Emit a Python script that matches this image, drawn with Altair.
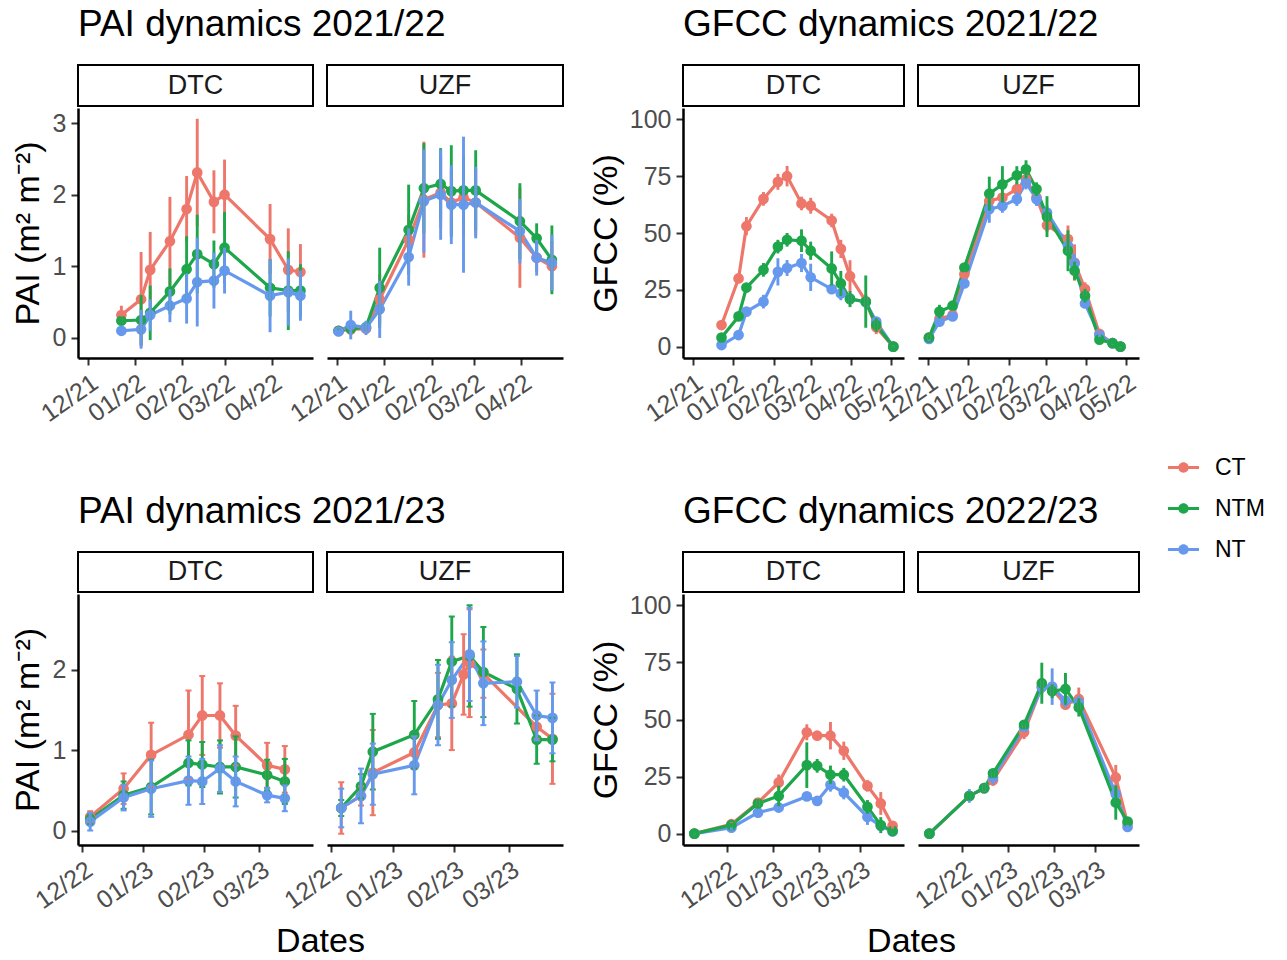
import altair as alt
import pandas as pd

FONT = "Liberation Sans"
TREATMENTS = ["CT", "NTM", "NT"]
# names as printed in the legend (NT carries a leading space)
TREATMENT_NAMES = ["CT", "NTM", "\u00a0NT"]
COLORS = ["#EE776B", "#1DA64A", "#6699EE"]
COLOR_OF = dict(zip(TREATMENTS, COLORS))
NAME_OF = dict(zip(TREATMENTS, TREATMENT_NAMES))

# ---------------- PAI 2021/22 ----------------
PAI22_DTC_DATES = ["2021-12-23", "2022-01-05", "2022-01-11", "2022-01-24", "2022-02-04",
                   "2022-02-11", "2022-02-22", "2022-03-01", "2022-03-31", "2022-04-12",
                   "2022-04-20"]
PAI22_DTC_MEAN = {
    "CT":  [0.32, 0.54, 0.95, 1.35, 1.80, 2.31, 1.90, 2.00, 1.38, 0.95, 0.92],
    "NTM": [0.24, 0.25, 0.35, 0.65, 0.96, 1.17, 1.03, 1.26, 0.70, 0.66, 0.66],
    "NT":  [0.10, 0.12, 0.32, 0.45, 0.55, 0.78, 0.80, 0.94, 0.59, 0.64, 0.59],
}
PAI22_DTC_SD = {
    "CT":  [0.13, 0.66, 0.53, 0.62, 0.46, 0.75, 0.44, 0.49, 0.49, 0.58, 0.39],
    "NTM": [0.06, 0.35, 0.38, 0.32, 0.46, 0.55, 0.33, 0.50, 0.40, 0.55, 0.37],
    "NT":  [0.05, 0.27, 0.22, 0.23, 0.35, 0.62, 0.39, 0.32, 0.51, 0.47, 0.35],
}
PAI22_UZF_DATES = ["2021-12-02", "2021-12-10", "2021-12-20", "2021-12-29", "2022-01-17",
                   "2022-01-27", "2022-02-07", "2022-02-14", "2022-02-22", "2022-03-02",
                   "2022-03-31", "2022-04-11", "2022-04-21"]
PAI22_UZF_MEAN = {
    "CT":  [0.10, 0.12, 0.13, 0.54, 1.37, 1.93, 2.03, 1.89, 1.96, 1.89, 1.40, 1.12, 1.00],
    "NTM": [0.10, 0.13, 0.15, 0.70, 1.51, 2.09, 2.15, 2.05, 2.06, 2.06, 1.63, 1.39, 1.09],
    "NT":  [0.09, 0.18, 0.14, 0.40, 1.13, 1.91, 2.00, 1.86, 1.86, 1.89, 1.49, 1.12, 1.05],
}
PAI22_UZF_SD = {
    "CT":  [0.03, 0.08, 0.06, 0.35, 0.35, 0.81, 0.50, 0.45, 0.55, 0.47, 0.70, 0.20, 0.35],
    "NTM": [0.03, 0.05, 0.05, 0.56, 0.63, 0.63, 0.50, 0.64, 0.50, 0.56, 0.53, 0.21, 0.48],
    "NT":  [0.03, 0.20, 0.10, 0.40, 0.40, 0.72, 0.63, 0.55, 0.95, 0.50, 0.45, 0.25, 0.39],
}

# ---------------- GFCC 2021/22 ----------------
GF22_DTC_DATES = ["2021-12-23", "2022-01-05", "2022-01-11", "2022-01-24", "2022-02-04",
                  "2022-02-11", "2022-02-22", "2022-03-01", "2022-03-17", "2022-03-24",
                  "2022-03-31", "2022-04-12", "2022-04-20", "2022-05-03"]
GF22_DTC_MEAN = {
    "CT":  [9.5, 30.0, 53.0, 65.0, 72.5, 75.0, 63.0, 62.0, 55.5, 43.0, 31.0, 20.0, 8.5, 0.0],
    "NTM": [4.0, 13.3, 26.0, 33.8, 44.0, 47.0, 46.6, 42.2, 34.4, 27.8, 20.9, 19.8, 9.5, 0.0],
    "NT":  [0.7, 5.1, 15.4, 19.8, 32.9, 34.6, 36.8, 30.5, 25.3, 23.4, 21.2, 19.5, 11.0, 0.0],
}
GF22_DTC_SD = {
    "CT":  [1.5, 2.0, 4.0, 3.0, 3.5, 4.5, 3.0, 3.5, 3.0, 4.0, 7.0, 3.0, 3.0, 0.5],
    "NTM": [1.0, 2.0, 2.0, 3.0, 3.0, 3.0, 5.0, 4.0, 7.5, 5.5, 3.5, 11.5, 3.0, 0.5],
    "NT":  [1.0, 2.0, 2.0, 3.0, 6.0, 3.5, 4.0, 6.0, 2.0, 3.0, 2.5, 3.0, 2.0, 0.5],
}
GF22_UZF_DATES = ["2021-12-02", "2021-12-10", "2021-12-20", "2021-12-29", "2022-01-17",
                  "2022-01-27", "2022-02-07", "2022-02-14", "2022-02-22", "2022-03-02",
                  "2022-03-18", "2022-03-23", "2022-03-31", "2022-04-11", "2022-04-21",
                  "2022-04-27"]
GF22_UZF_MEAN = {
    "CT":  [4.0, 12.2, 13.9, 31.9, 64.1, 65.6, 69.3, 73.6, 65.6, 53.4, 47.3, 37.0, 25.3, 5.6, 1.5, 0.0],
    "NTM": [4.0, 15.4, 18.0, 34.8, 67.3, 71.4, 75.4, 78.0, 69.3, 57.2, 42.2, 33.4, 22.4, 3.1, 1.5, 0.0],
    "NT":  [3.4, 11.0, 13.3, 27.8, 60.5, 61.9, 64.9, 72.2, 64.9, 59.0, 44.4, 36.6, 19.0, 5.1, 1.5, 0.0],
}
GF22_UZF_SD = {
    "CT":  [1.0, 2.0, 2.0, 2.0, 3.0, 2.0, 3.0, 3.0, 3.0, 3.0, 6.0, 8.0, 3.0, 1.0, 0.5, 0.3],
    "NTM": [1.0, 3.0, 2.0, 2.0, 7.5, 8.0, 4.0, 4.0, 3.0, 9.0, 9.0, 4.0, 3.0, 1.0, 0.5, 0.3],
    "NT":  [1.0, 2.0, 2.0, 2.0, 6.0, 3.0, 3.0, 3.0, 3.0, 3.0, 3.0, 4.0, 2.0, 1.0, 0.5, 0.3],
}

# ---------------- PAI 2022/23 ----------------
PAI23_DTC_DATES = ["2022-12-05", "2022-12-22", "2023-01-05", "2023-01-24", "2023-01-31",
                   "2023-02-09", "2023-02-17", "2023-03-05", "2023-03-14"]
PAI23_DTC_MEAN = {
    "CT":  [0.17, 0.52, 0.94, 1.19, 1.43, 1.43, 1.18, 0.81, 0.76],
    "NTM": [0.14, 0.44, 0.54, 0.84, 0.82, 0.79, 0.79, 0.69, 0.61],
    "NT":  [0.11, 0.41, 0.52, 0.62, 0.61, 0.77, 0.61, 0.44, 0.40],
}
PAI23_DTC_SD = {
    "CT":  [0.07, 0.19, 0.40, 0.55, 0.49, 0.40, 0.37, 0.28, 0.29],
    "NTM": [0.06, 0.17, 0.34, 0.28, 0.28, 0.33, 0.38, 0.19, 0.28],
    "NT":  [0.11, 0.16, 0.35, 0.30, 0.28, 0.29, 0.31, 0.09, 0.16],
}
PAI23_UZF_DATES = ["2022-12-06", "2022-12-16", "2022-12-22", "2023-01-12", "2023-01-24",
                   "2023-01-31", "2023-02-06", "2023-02-09", "2023-02-16", "2023-03-05",
                   "2023-03-15", "2023-03-23"]
PAI23_UZF_MEAN = {
    "CT":  [0.28, 0.43, 0.72, 0.97, 1.56, 1.58, 1.94, 2.08, 1.95, None, 1.29, 1.14],
    "NTM": [0.28, 0.55, 0.98, 1.19, 1.63, 2.10, None, 2.17, 1.97, 1.76, 1.13, 1.13],
    "NT":  [0.28, 0.43, 0.70, 0.81, 1.56, 1.87, None, 2.19, 1.83, 1.85, 1.43, 1.40],
}
PAI23_UZF_SD = {
    "CT":  [0.32, 0.12, 0.53, 0.20, 0.40, 0.58, 0.50, 0.67, 0.30, None, 0.15, 0.56],
    "NTM": [0.10, 0.15, 0.47, 0.42, 0.49, 0.56, None, 0.63, 0.56, 0.43, 0.30, 0.27],
    "NT":  [0.24, 0.34, 0.38, 0.36, 0.50, 0.47, None, 0.58, 0.52, 0.32, 0.31, 0.44],
}

# ---------------- GFCC 2022/23 ----------------
GF23_DTC_DATES = ["2022-11-09", "2022-12-04", "2022-12-22", "2023-01-05", "2023-01-24",
                  "2023-01-31", "2023-02-09", "2023-02-18", "2023-03-06", "2023-03-15",
                  "2023-03-23"]
GF23_DTC_MEAN = {
    "CT":  [0.0, 4.1, 13.6, 22.4, 44.4, 42.9, 42.9, 36.3, 20.9, 13.2, 3.4],
    "NTM": [0.0, 3.7, 13.2, 16.5, 30.0, 29.7, 25.8, 25.8, 11.7, 3.7, 1.2],
    "NT":  [0.0, 2.6, 9.2, 11.4, 16.3, 14.3, 21.4, 18.0, 7.3, 3.4, 0.9],
}
GF23_DTC_SD = {
    "CT":  [0.3, 1.0, 2.0, 3.5, 3.5, 2.0, 6.0, 4.0, 2.5, 5.0, 1.5],
    "NTM": [0.3, 1.0, 2.0, 4.5, 10.0, 3.0, 4.0, 3.0, 3.0, 3.5, 1.0],
    "NT":  [0.3, 1.0, 1.5, 2.0, 2.0, 1.5, 3.0, 3.0, 3.5, 1.0, 0.8],
}
GF23_UZF_DATES = ["2022-11-09", "2022-12-06", "2022-12-16", "2022-12-22", "2023-01-12",
                  "2023-01-24", "2023-01-31", "2023-02-09", "2023-02-18", "2023-03-15",
                  "2023-03-23"]
GF23_UZF_MEAN = {
    "CT":  [0.0, 16.5, 19.9, 23.4, 44.4, 64.4, 63.4, 56.5, 59.0, 24.6, 4.4],
    "NTM": [0.0, 16.5, 19.9, 26.4, 47.7, 65.9, 62.4, 63.4, 55.3, 13.6, 5.3],
    "NT":  [0.0, 16.5, 19.9, 24.6, 46.6, 64.1, 64.4, 58.3, 57.5, 17.3, 2.9],
}
GF23_UZF_SD = {
    "CT":  [0.3, 2.0, 1.5, 2.5, 3.0, 3.0, 3.0, 2.0, 5.0, 5.5, 1.5],
    "NTM": [0.3, 2.0, 1.5, 2.0, 2.0, 9.0, 3.0, 7.0, 4.0, 7.5, 1.5],
    "NT":  [0.3, 3.0, 1.5, 3.0, 2.0, 3.0, 8.0, 3.0, 3.0, 4.0, 1.0],
}

# ---------------- axes ----------------
TICKS_2122 = ["2021-12-01", "2022-01-01", "2022-02-01", "2022-03-01", "2022-04-01"]
TICKS_GF2122 = TICKS_2122 + ["2022-05-01"]
TICKS_2223 = ["2022-12-01", "2023-01-01", "2023-02-01", "2023-03-01"]
XDOM_PAI22 = ["2021-11-24T10", "2022-04-28T07"]
XDOM_GF22 = ["2021-11-23T15", "2022-05-11T04"]
XDOM_PAI23 = ["2022-11-28T19", "2023-03-28T08"]
XDOM_GF23 = ["2022-11-01T07", "2023-03-30T17"]
YDOM_PAI22 = [-0.28, 3.21]
YDOM_PAI23 = [-0.18, 2.94]
YDOM_GF = [-5, 105]
YTICKS_PAI22 = [0, 1, 2, 3]
YTICKS_PAI23 = [0, 1, 2]
YTICKS_GF = [0, 25, 50, 75, 100]

PAI_TITLE = "PAI (m\u00b2 m\u207b\u00b2)"
GF_TITLE = "GFCC (%)"

W_PAI, W_GF = 235, 221
H_TOP, H_BOT = 250, 251
STRIP_TOP, STRIP_BOT = 41, 40
GAP_COL, GAP_MID, GAP_ROW, GAP_MIDROW = 14, 92, 2, 190

TICK_FS = 25
AXIS_TITLE_FS = 34
TITLE_FS = 37
STRIP_FS = 27

# legend key: a short line with a dot on it
LEGEND = alt.Legend(
    title=None, orient="none", legendX=1094, legendY=391, padding=0,
    symbolType="M-1.5,-0.14L1.5,-0.14L1.5,0.14L-1.5,0.14Z"
               "M0.5,0A0.5,0.5,0,1,1,-0.5,0A0.5,0.5,0,1,1,0.5,0Z",
    symbolSize=430, symbolStrokeWidth=0,
    labelFont=FONT, labelFontSize=23, labelColor="black", labelOffset=20,
    rowPadding=17,
)


def to_dt(s):
    day, _, hour = s.partition("T")
    y, m, d = (int(v) for v in day.split("-"))
    return alt.DateTime(year=y, month=m, date=d, hours=int(hour or 0), utc=True)


def long_table(dates, means, sds):
    rows = []
    for t in TREATMENTS:
        for d, m, s in zip(dates, means[t], sds[t]):
            if m is None:
                continue
            rows.append({"date": d, "treatment": NAME_OF[t], "value": m,
                         "lo": m - s, "hi": m + s})
    return pd.DataFrame(rows)


def facet_plot(df, xdom, xticks, ydom, yticks, order, width, height,
               ytitle=None, ytitle_x=-40, xtitle=None, caps=False):
    xaxis_kw = dict(values=[to_dt(t) for t in xticks],
                    labelExpr="utcFormat(datum.value, '%m/%y')",
                    labelAngle=-35, labelAlign="right", labelBaseline="top",
                    labelFont=FONT, labelFontSize=TICK_FS, labelColor="#4D4D4D",
                    labelPadding=5, labelOverlap=False, labelFlush=False, labelBound=False,
                    tickSize=7, tickWidth=2, tickColor="#333333",
                    domainColor="black", domainWidth=2.5, grid=False)
    if xtitle:
        xaxis_kw.update(title=xtitle, titleX=(width * 2 + GAP_COL) / 2, titleY=106,
                        titleAlign="center", titleBaseline="alphabetic", titleAngle=0,
                        titleFont=FONT, titleFontSize=AXIS_TITLE_FS, titleFontWeight="normal",
                        titleColor="black")
    else:
        xaxis_kw.update(title=None)
    xscale = alt.Scale(type="utc", domain=[to_dt(v) for v in xdom], nice=False)
    x = alt.X("date:T", scale=xscale, axis=alt.Axis(**xaxis_kw))

    yscale = alt.Scale(domain=ydom, nice=False, zero=False)
    if ytitle:
        yaxis = alt.Axis(values=yticks, title=ytitle, titleX=ytitle_x, titleY=height / 2,
                         titleAngle=-90, titleAlign="center", titleBaseline="alphabetic",
                         titleFont=FONT, titleFontSize=AXIS_TITLE_FS, titleFontWeight="normal",
                         titleColor="black",
                         labelFont=FONT, labelFontSize=TICK_FS, labelColor="#4D4D4D",
                         labelPadding=5, labelOverlap=False, labelFlush=False,
                         tickSize=7, tickWidth=2, tickColor="#333333",
                         domainColor="black", domainWidth=2.5, grid=False)
    else:
        yaxis = None
    y = alt.Y("value:Q", scale=yscale, axis=yaxis)
    ylo = alt.Y("lo:Q", scale=yscale, axis=yaxis)
    yhi = alt.Y("hi:Q", scale=yscale, axis=yaxis)

    base = alt.Chart(df)
    layers = []
    # lines, then points, then error bars; each treatment in its own layer
    for t in order:
        layers.append(base.transform_filter(alt.datum.treatment == NAME_OF[t])
                      .mark_line(strokeWidth=3.2, color=COLOR_OF[t])
                      .encode(x=x, y=y))
    for t in order:
        layers.append(base.transform_filter(alt.datum.treatment == NAME_OF[t])
                      .mark_circle(size=115, opacity=1)
                      .encode(x=x, y=y,
                              color=alt.Color("treatment:N",
                                              scale=alt.Scale(domain=TREATMENT_NAMES,
                                                              range=COLORS),
                                              legend=LEGEND)))
    for t in order:
        sub = base.transform_filter(alt.datum.treatment == NAME_OF[t])
        layers.append(sub.mark_rule(strokeWidth=2.9, color=COLOR_OF[t])
                      .encode(x=x, y=ylo, y2="hi:Q"))
        if caps:
            for yy in (ylo, yhi):
                layers.append(sub.mark_tick(orient="horizontal", size=6, thickness=2,
                                            opacity=1, color=COLOR_OF[t])
                              .encode(x=x, y=yy))
    return alt.layer(*layers).properties(width=width, height=height)


def strip(site, width, height, title=None):
    src = alt.Chart(pd.DataFrame({"site": [site]}))
    x = alt.X("site:N", axis=None, scale=alt.Scale(paddingInner=0, paddingOuter=0))
    box = src.mark_rect(fill="white", stroke="black", strokeWidth=2).encode(x=x)
    lab = src.mark_text(font=FONT, fontSize=STRIP_FS, color="#1A1A1A").encode(x=x, text="site:N")
    ch = alt.layer(box, lab).properties(width=width, height=height)
    if title:
        ch = ch.properties(title=alt.TitleParams(
            title, anchor="start", frame="group", offset=20, font=FONT, fontSize=TITLE_FS,
            fontWeight="normal", color="black"))
    return ch


def spacer(width, height):
    return (alt.Chart(pd.DataFrame({"s": [0]})).mark_point(opacity=0)
            .encode(x=alt.value(0), y=alt.value(0))
            .properties(width=width, height=height))


ORDER_PAI = ["CT", "NTM", "NT"]
ORDER_GF = ["CT", "NT", "NTM"]

pai22_dtc = long_table(PAI22_DTC_DATES, PAI22_DTC_MEAN, PAI22_DTC_SD)
pai22_uzf = long_table(PAI22_UZF_DATES, PAI22_UZF_MEAN, PAI22_UZF_SD)
gf22_dtc = long_table(GF22_DTC_DATES, GF22_DTC_MEAN, GF22_DTC_SD)
gf22_uzf = long_table(GF22_UZF_DATES, GF22_UZF_MEAN, GF22_UZF_SD)
pai23_dtc = long_table(PAI23_DTC_DATES, PAI23_DTC_MEAN, PAI23_DTC_SD)
pai23_uzf = long_table(PAI23_UZF_DATES, PAI23_UZF_MEAN, PAI23_UZF_SD)
gf23_dtc = long_table(GF23_DTC_DATES, GF23_DTC_MEAN, GF23_DTC_SD)
gf23_uzf = long_table(GF23_UZF_DATES, GF23_UZF_MEAN, GF23_UZF_SD)

cells = [
    # row 1: strips
    strip("DTC", W_PAI, STRIP_TOP, "PAI dynamics 2021/22"),
    strip("UZF", W_PAI + 1, STRIP_TOP),
    spacer(GAP_MID, STRIP_TOP),
    strip("DTC", W_GF, STRIP_TOP, "GFCC dynamics 2021/22"),
    strip("UZF", W_GF, STRIP_TOP),
    # row 1: panels
    facet_plot(pai22_dtc, XDOM_PAI22, TICKS_2122, YDOM_PAI22, YTICKS_PAI22, ORDER_PAI,
               W_PAI, H_TOP, ytitle=PAI_TITLE, ytitle_x=-40),
    facet_plot(pai22_uzf, XDOM_PAI22, TICKS_2122, YDOM_PAI22, YTICKS_PAI22, ORDER_PAI,
               W_PAI + 1, H_TOP),
    spacer(GAP_MID, H_TOP),
    facet_plot(gf22_dtc, XDOM_GF22, TICKS_GF2122, YDOM_GF, YTICKS_GF, ORDER_GF,
               W_GF, H_TOP, ytitle=GF_TITLE, ytitle_x=-67),
    facet_plot(gf22_uzf, XDOM_GF22, TICKS_GF2122, YDOM_GF, YTICKS_GF, ORDER_GF,
               W_GF, H_TOP),
    # gap between the two rows of panels
    spacer(1, GAP_MIDROW), spacer(1, GAP_MIDROW), spacer(GAP_MID, GAP_MIDROW),
    spacer(1, GAP_MIDROW), spacer(1, GAP_MIDROW),
    # row 2: strips
    strip("DTC", W_PAI, STRIP_BOT, "PAI dynamics 2021/23"),
    strip("UZF", W_PAI + 1, STRIP_BOT),
    spacer(GAP_MID, STRIP_BOT),
    strip("DTC", W_GF, STRIP_BOT, "GFCC dynamics 2022/23"),
    strip("UZF", W_GF, STRIP_BOT),
    # row 2: panels
    facet_plot(pai23_dtc, XDOM_PAI23, TICKS_2223, YDOM_PAI23, YTICKS_PAI23, ORDER_PAI,
               W_PAI, H_BOT, ytitle=PAI_TITLE, ytitle_x=-40, xtitle="Dates", caps=True),
    facet_plot(pai23_uzf, XDOM_PAI23, TICKS_2223, YDOM_PAI23, YTICKS_PAI23, ORDER_PAI,
               W_PAI + 1, H_BOT, caps=True),
    spacer(GAP_MID, H_BOT),
    facet_plot(gf23_dtc, XDOM_GF23, TICKS_2223, YDOM_GF, YTICKS_GF, ORDER_GF,
               W_GF, H_BOT, ytitle=GF_TITLE, ytitle_x=-67, xtitle="Dates"),
    facet_plot(gf23_uzf, XDOM_GF23, TICKS_2223, YDOM_GF, YTICKS_GF, ORDER_GF,
               W_GF, H_BOT),
]

chart = alt.concat(
    *cells, columns=5, spacing={"row": GAP_ROW, "column": GAP_COL},
    bounds="flush", align="each",
).properties(
    padding={"left": 10, "top": 6, "right": 8, "bottom": 2},
).configure(font=FONT).configure_view(stroke=None)

chart.save("out.html", embed_options={"renderer": "svg", "actions": False})
